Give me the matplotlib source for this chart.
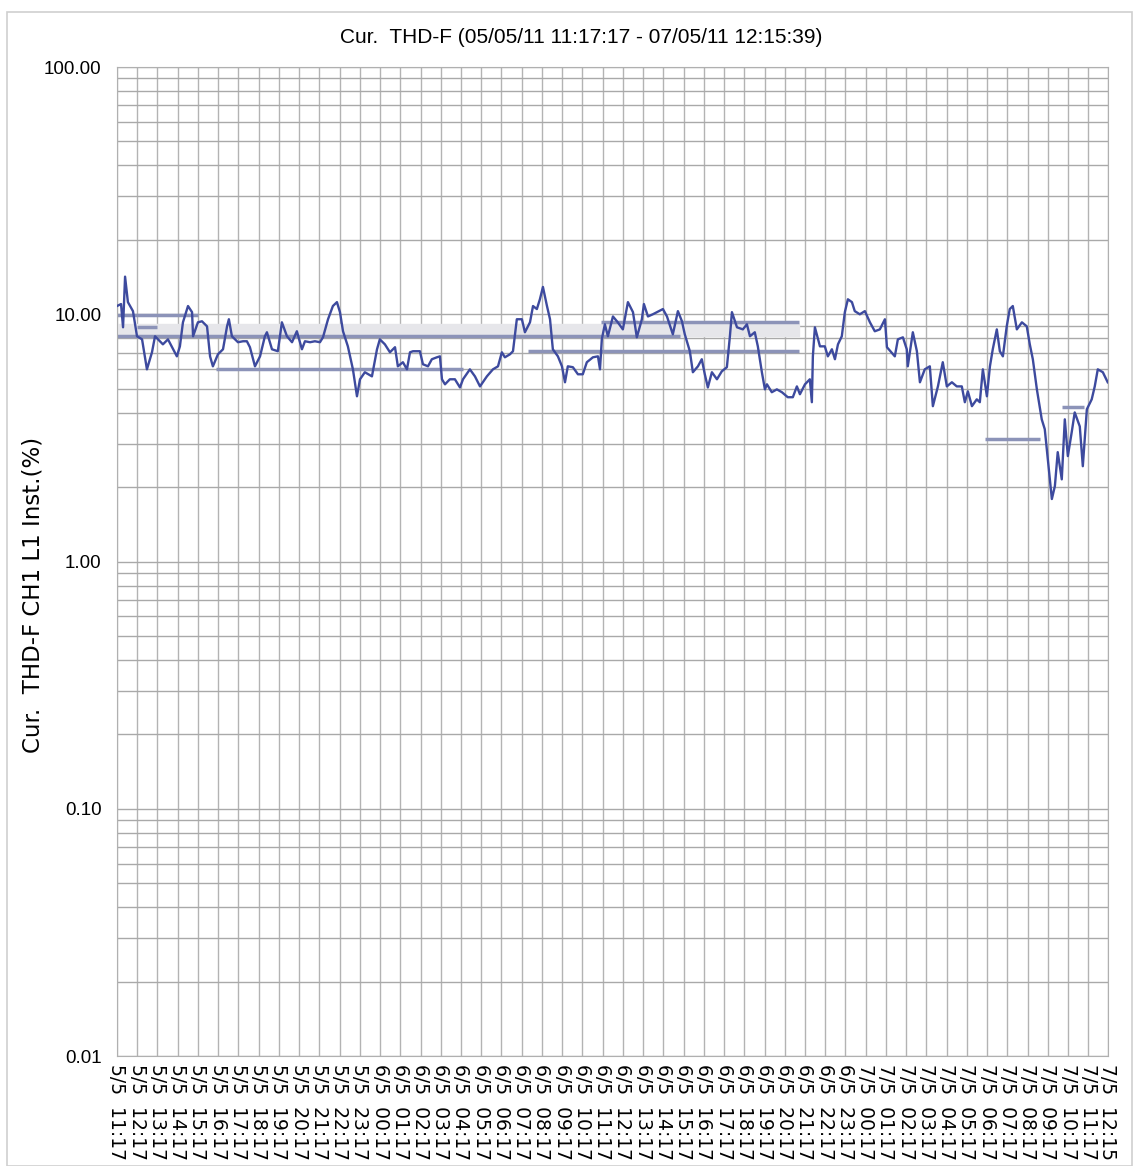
import numpy as np
import pandas as pd
import matplotlib
matplotlib.use('Agg')
import matplotlib.pyplot as plt
from matplotlib.ticker import FixedLocator, LogLocator, NullFormatter
from matplotlib.patches import Rectangle

# hours since 05/05/11 11:17:17 and THD-F value (%)
hours = [0.00, 0.20, 0.30, 0.40, 0.54, 0.79, 0.99, 1.24, 1.48, 1.73, 1.88, 2.27, 2.52, 2.96, 3.11,
         3.26, 3.51, 3.71, 3.76, 4.00, 4.20, 4.45, 4.60, 4.74, 4.99, 5.24, 5.44, 5.53, 5.68, 5.98,
         6.23, 6.42, 6.57, 6.82, 7.07, 7.31, 7.41, 7.66, 7.95, 8.15, 8.40, 8.65, 8.89, 9.14, 9.29,
         9.54, 9.78, 10.03, 10.18, 10.43, 10.67, 10.87, 11.02, 11.17, 11.41, 11.66, 11.86, 12.01,
         12.25, 12.60, 12.85, 12.99, 13.24, 13.49, 13.74, 13.88, 14.13, 14.33, 14.48, 14.63, 14.97,
         15.12, 15.37, 15.56, 15.81, 15.96, 16.06, 16.21, 16.45, 16.70, 16.95, 17.10, 17.44, 17.69,
         17.94, 18.28, 18.58, 18.83, 19.02, 19.17, 19.42, 19.57, 19.76, 20.01, 20.16, 20.41, 20.56,
         20.75, 20.90, 21.05, 21.25, 21.40, 21.54, 21.79, 21.99, 22.14, 22.28, 22.53, 22.78, 23.02,
         23.22, 23.52, 23.77, 23.87, 23.96, 24.11, 24.26, 24.51, 24.75, 25.00, 25.25, 25.50, 25.69,
         25.94, 26.04, 26.24, 26.48, 26.98, 27.18, 27.47, 27.72, 27.92, 28.06, 28.31, 28.46, 28.71,
         28.90, 29.05, 29.20, 29.40, 29.65, 29.89, 30.14, 30.29, 30.39, 30.64, 30.93, 31.13, 31.28,
         31.52, 31.67, 31.87, 32.02, 32.12, 32.36, 32.61, 32.86, 33.15, 33.40, 33.60, 33.75, 34.00,
         34.24, 34.34, 34.39, 34.49, 34.74, 34.98, 35.13, 35.33, 35.48, 35.63, 35.82, 35.97, 36.12,
         36.32, 36.46, 36.71, 36.96, 37.21, 37.45, 37.70, 37.95, 38.05, 38.44, 38.59, 38.84, 39.03,
         39.08, 39.33, 39.53, 39.68, 39.92, 40.17, 40.32, 40.57, 40.81, 41.01, 41.26, 41.50, 41.75,
         41.90, 42.05, 42.25, 42.49, 42.64, 42.79, 42.99, 43.14, 43.28, 43.48, 43.63, 43.78, 43.97,
         44.12, 44.27, 44.47, 44.72, 44.96, 45.11, 45.26, 45.46, 45.70, 45.85, 46.00, 46.20, 46.35,
         46.49, 46.69, 46.84, 46.99, 47.18, 47.33, 47.58, 47.73, 47.93, 48.17, 48.32, 48.47, 48.72,
         48.96]
thd = [10.8, 11.0, 8.86, 14.2, 11.2, 10.3, 8.15, 7.92, 5.99, 7.02, 8.15, 7.56, 7.92, 6.76, 7.42,
       9.28, 10.8, 10.2, 8.15, 9.28, 9.37, 8.94, 6.76, 6.16, 6.89, 7.22, 8.94, 9.55, 8.15, 7.71,
       7.78, 7.78, 7.36, 6.16, 6.76, 8.15, 8.46, 7.22, 7.09, 9.28, 8.15, 7.71, 8.54, 7.22, 7.78,
       7.71, 7.78, 7.71, 8.07, 9.55, 10.8, 11.2, 10.2, 8.54, 7.42, 5.99, 4.66, 5.46, 5.83, 5.61,
       7.22, 7.92, 7.56, 7.02, 7.36, 6.16, 6.40, 5.99, 7.02, 7.09, 7.09, 6.28, 6.16, 6.58, 6.70,
       6.76, 5.46, 5.21, 5.46, 5.46, 5.06, 5.46, 5.99, 5.61, 5.11, 5.61, 5.99, 6.16, 7.02, 6.70,
       6.89, 7.09, 9.55, 9.55, 8.46, 9.28, 10.8, 10.5, 11.5, 12.9, 10.8, 9.55, 7.22, 6.76, 6.16,
       5.31, 6.16, 6.11, 5.72, 5.72, 6.40, 6.70, 6.76, 5.99, 7.92, 9.11, 8.15, 9.8, 9.28, 8.69,
       11.2, 10.2, 8.07, 9.55, 11.0, 9.8, 10.0, 10.5, 9.8, 8.30, 10.3, 9.37, 8.30, 7.09, 5.83,
       6.16, 6.58, 5.72, 5.06, 5.83, 5.46, 5.88, 6.11, 8.15, 10.2, 8.86, 8.69, 9.11, 8.15, 8.46,
       7.42, 5.83, 4.97, 5.21, 4.84, 4.97, 4.84, 4.62, 4.62, 5.11, 4.75, 5.21, 5.46, 4.41, 6.76,
       8.86, 7.42, 7.42, 6.76, 7.22, 6.58, 7.56, 8.15, 10.2, 11.5, 11.2, 10.3, 10.0, 10.3, 9.28,
       8.54, 8.69, 9.55, 7.36, 6.76, 7.92, 8.07, 7.22, 6.16, 8.46, 7.09, 5.31, 5.99, 6.16, 4.25,
       5.11, 6.40, 5.11, 5.31, 5.11, 5.11, 4.41, 4.88, 4.25, 4.53, 4.41, 5.99, 4.66, 6.16, 7.22,
       8.69, 7.09, 6.76, 8.94, 10.5, 10.8, 8.69, 9.28, 8.94, 7.56, 6.58, 4.97, 3.76, 3.43, 2.60,
       1.79, 2.02, 2.77, 2.15, 3.76, 2.67, 3.33, 4.01, 3.52, 2.43, 4.13, 4.53, 5.11, 5.99, 5.83,
       5.31]

# flat trace segments left by the instrument software: start h, end h, value
seg_start = [0.0, 0.0, 4.9, 20.3, 23.9, 42.9, 46.7, 1.0]
seg_end = [4.0, 27.8, 17.1, 33.7, 33.7, 45.6, 47.8, 2.0]
seg_value = [9.9, 8.15, 5.99, 7.09, 9.3, 3.12, 4.2, 8.86]
band_low, band_high, band_end = 8.15, 9.1, 33.7

tick_hours = list(range(49)) + [48.97]
tick_labels = ([f'5/5  {h:02d}:17' for h in range(11, 24)] +
               [f'6/5  {h:02d}:17' for h in range(0, 24)] +
               [f'7/5  {h:02d}:17' for h in range(0, 12)] + ['7/5  12:15'])

narrow = ['Liberation Sans', 'DejaVu Sans']
wide = ['DejaVu Sans']

fig = plt.figure(figsize=(11.39, 11.66), dpi=100)
ax = fig.add_axes([0.1027, 0.0943, 0.870, 0.8482])

# outer frame
fig.patches.append(Rectangle((0.006, 0.0), 0.988, 0.99, transform=fig.transFigure,
                             fill=False, edgecolor='#cfcfcf', linewidth=1.2))

ax.fill_between([0, band_end], band_low, band_high, color='#e6e6ea', zorder=1)
ax.hlines(seg_value, seg_start, seg_end, color='#8c93b8', linewidth=2.5, zorder=2)
ax.plot(hours, thd, color='#3d4a9e', linewidth=1.7, zorder=3)

ax.set_yscale('log')
ax.set_ylim(0.01, 100)
ax.set_xlim(0, 48.97)
ax.yaxis.set_major_locator(FixedLocator([0.01, 0.1, 1, 10, 100]))
ax.yaxis.set_minor_locator(LogLocator(base=10, subs=np.arange(2, 10)))
ax.yaxis.set_minor_formatter(NullFormatter())
ax.set_yticklabels(['0.01', '0.10', '1.00', '10.00', '100.00'], family=narrow, fontsize=13.5)
ax.set_xticks(tick_hours)
ax.set_xticklabels(tick_labels, rotation=270, family=wide, fontsize=13.5, va='top', ha='center')
ax.tick_params(axis='both', which='both', length=0)
ax.tick_params(axis='y', pad=11)
ax.tick_params(axis='x', pad=6)

ax.grid(True, which='both', axis='y', color='#a9a9a9', linewidth=1.0)
ax.grid(True, which='major', axis='x', color='#b3b3b3', linewidth=1.0)
ax.set_axisbelow(True)
for s in ax.spines.values():
    s.set_color('#b0b0b0')

fig.text(0.51, 0.968, 'Cur.  THD-F (05/05/11 11:17:17 - 07/05/11 12:15:39)', family=narrow,
         fontsize=15, ha='center', va='center')
ax.set_ylabel('Cur.  THD-F CH1 L1 Inst.(%)', family=wide, fontsize=16.5)
ax.yaxis.set_label_coords(-0.073, 0.466)

fig.savefig('out.png', dpi=100)
